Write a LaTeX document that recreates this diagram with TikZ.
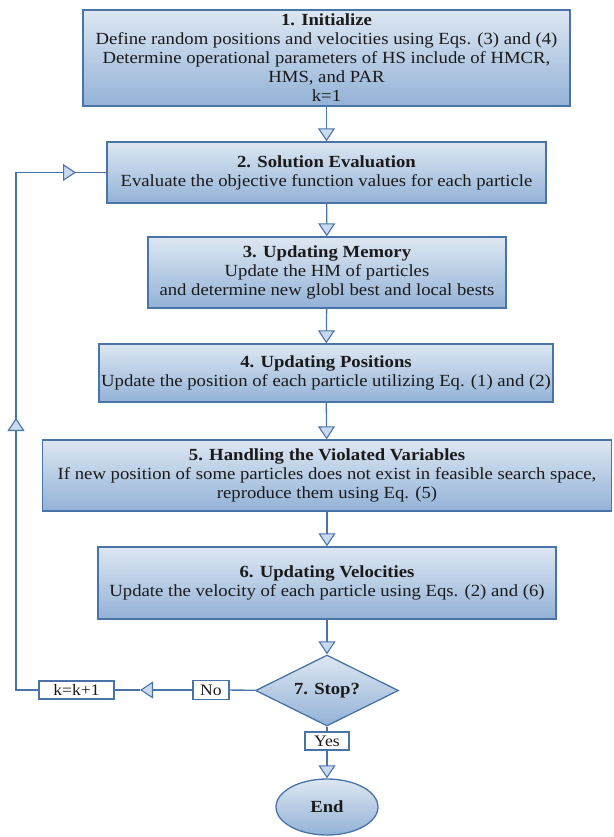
\documentclass[tikz,border=0pt]{standalone}
\usepackage{fontspec}
\setmainfont{Liberation Serif}[FakeStretch=1.1]
\usetikzlibrary{arrows.meta,shapes.geometric}
\definecolor{edgeblue}{HTML}{4A74A8}
\definecolor{topblue}{HTML}{DDE7F2}
\definecolor{botblue}{HTML}{93B2D7}
\definecolor{tipfill}{HTML}{C9DAEE}
\definecolor{txt}{HTML}{1A1A1A}
\tikzset{
  stepbox/.style={draw=edgeblue, line width=1.3pt, top color=topblue, bottom color=botblue,
    rectangle, inner sep=0pt, align=center, text=txt, font=\fontsize{17}{19}\selectfont},
  lowtext/.style={text depth=0pt, execute at begin node={\rule{0pt}{17pt}}},
  lab/.style={draw=edgeblue, line width=1.3pt, fill=white, rectangle, inner sep=0pt,
    text=txt, font=\fontsize{16}{17}\selectfont},
  conn/.style={draw=edgeblue, line width=1.3pt},
  tipped/.style={conn, -{Triangle[length=13pt,width=17pt,fill=tipfill,line width=1.1pt]}},
}
\begin{document}
\begin{tikzpicture}[x=1pt,y=-1pt]
\useasboundingbox (0,0) rectangle (613,837);
\node[stepbox, minimum width=487pt, minimum height=96pt] (b1) at (326.5,58)
  {\textbf{1. Initialize}\\Define random positions and velocities using Eqs. (3) and (4)\\
   Determine operational parameters of HS include of HMCR,\\HMS, and PAR\\k=1};
\node[stepbox, minimum width=439pt, minimum height=61pt] (b2) at (326.5,172.5)
  {\textbf{2. Solution Evaluation}\\Evaluate the objective function values for each particle};
\node[stepbox, minimum width=358pt, minimum height=71pt] (b3) at (327,272.5)
  {\textbf{3. Updating Memory}\\Update the HM of particles\\and determine new globl best and local bests};
\node[stepbox, minimum width=454pt, minimum height=58pt] (b4) at (326,373)
  {\textbf{4. Updating Positions}\\Update the position of each particle utilizing Eq. (1) and (2)};
\node[stepbox, minimum width=569pt, minimum height=71pt] (b5) at (327,475.5)
  {\textbf{5. Handling the Violated Variables}\\If new position of some particles does not exist in feasible search space,\\reproduce them using Eq. (5)};
\node[stepbox, minimum width=458pt, minimum height=72pt] (b6) at (327,583)
  {\textbf{6. Updating Velocities}\\Update the velocity of each particle using Eqs. (2) and (6)};
\node[stepbox, diamond, aspect=2, minimum width=143pt, minimum height=71pt] (stop) at (327,690.5)
  {\textbf{7. Stop?}};
\node[stepbox, ellipse, minimum width=102pt, minimum height=56pt] (end) at (327,807)
  {\textbf{End}};
\node[lab, minimum width=44pt, minimum height=18pt] (yes) at (327,741) {Yes};
\node[lab, minimum width=36pt, minimum height=19pt] (no) at (211,690) {No};
\node[lab, minimum width=75pt, minimum height=18pt] (kk) at (76.5,690) {k=k+1};
\coordinate (lefttip) at (140,690);
\coordinate (loopbot) at (16,690);
\coordinate (uptip) at (16,418);
\coordinate (looptop) at (16,172.5);
\coordinate (righttip) at (76,172.5);
\draw[tipped] (b1) -- (b2);
\draw[tipped] (b2) -- (b3);
\draw[tipped] (b3) -- (b4);
\draw[tipped] (b4) -- (b5);
\draw[tipped] (b5) -- (b6);
\draw[tipped] (b6) -- (stop);
\draw[conn] (stop) -- (yes);
\draw[tipped] (yes) -- (end);
\draw[conn] (stop) -- (no);
\draw[tipped] (no) -- (lefttip);
\draw[conn] (lefttip) -- (kk);
\draw[conn] (kk) -- (loopbot) -- (uptip);
\draw[tipped] (loopbot) -- (uptip);
\draw[conn] (uptip) -- (looptop) -- (righttip);
\draw[tipped] (looptop) -- (righttip);
\draw[conn] (righttip) -- (b2);
\end{tikzpicture}
\end{document}
